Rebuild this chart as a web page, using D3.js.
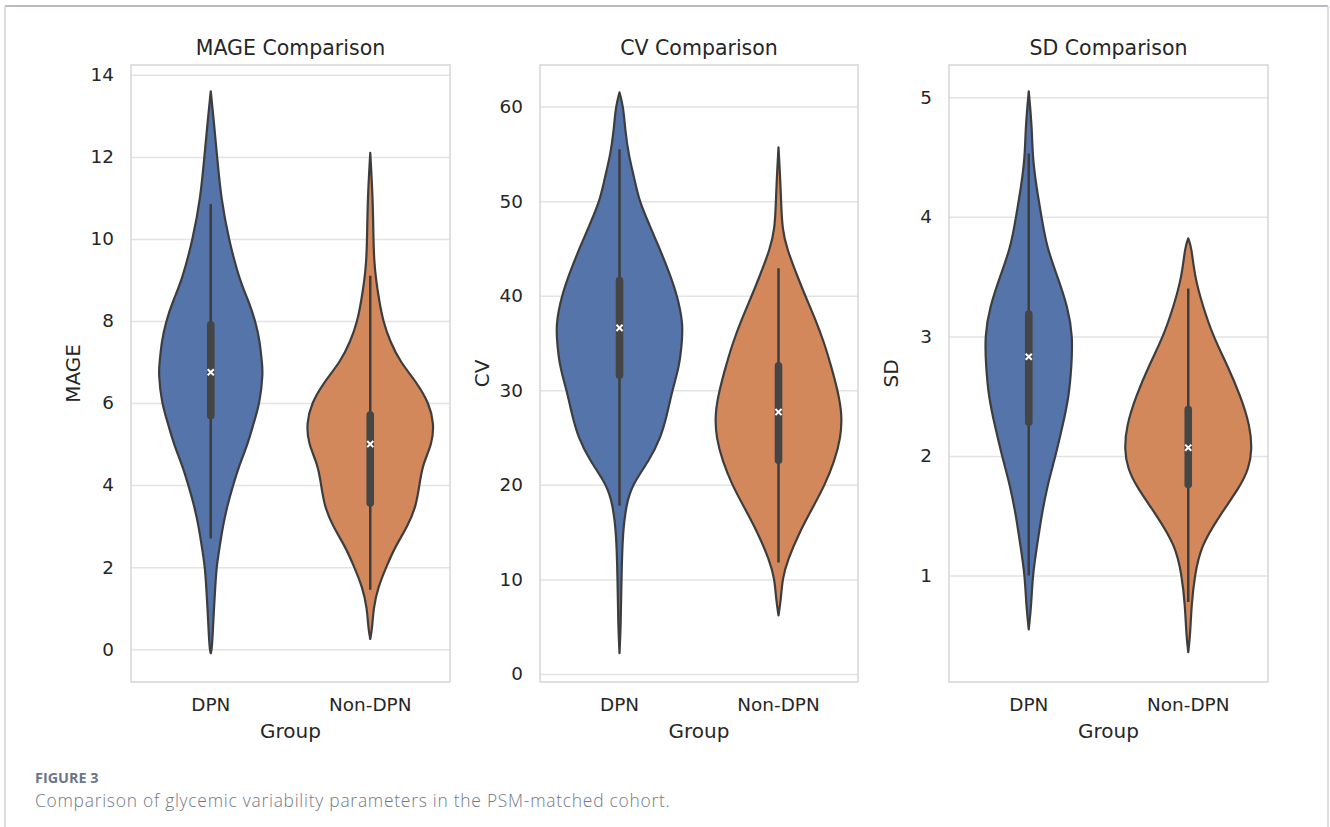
<!DOCTYPE html>
<html>
<head>
<meta charset="utf-8">
<script src="https://cdn.jsdelivr.net/npm/d3@7"></script>
<style>
  body { margin: 0; background: #fff; }
  svg { display: block; }
</style>
</head>
<body>
<div id="chart"></div>
<script>
// groups and metrics
const groups = ["DPN", "Non-DPN"];
const metrics = ["MAGE", "CV", "SD"];

// y ticks per panel
const mageTicks = [0, 2, 4, 6, 8, 10, 12, 14];
const cvTicks = [0, 10, 20, 30, 40, 50, 60];
const sdTicks = [1, 2, 3, 4, 5];

// axis ranges
const mageDomain = [-0.8, 14.24];
const cvDomain = [-0.85, 64.4];
const sdDomain = [0.11, 5.27];

// violin profiles: value along y, relative density (1 = widest violin)
const mageDpnV = [13.6,13,12,11,10,9,8.5,8,7.5,7,6.75,6,5.5,5,4.5,4,3.5,3,2.5,2,1.5,1,0,-0.1];
const mageDpnD = [0,.04,.10,.16,.28,.45,.59,.70,.77,.80,.82,.77,.67,.58,.45,.35,.26,.19,.14,.09,.07,.05,.02,0];
const mageNonV = [12.1,11,10,9.5,9,8.5,8,7.5,7,6.5,6,5.5,5,4.5,4,3.5,3,2.5,2,1.5,1,0.5,0.25];
const mageNonD = [0,.04,.05,.06,.09,.14,.20,.31,.47,.73,.92,1.0,.97,.82,.77,.72,.59,.39,.25,.12,.05,.03,0];

const cvDpnV = [61.5,60,57.5,55,52.5,50,47.5,45,42.5,40,37,35,32.5,30,27.5,25,22.5,20,18,15,10,5,2.2];
const cvDpnD = [0,.06,.09,.14,.23,.31,.47,.63,.78,.91,1.0,.98,.94,.83,.75,.65,.46,.20,.11,.05,.03,.02,0];
const cvNonV = [55.7,52,50,47,45,42,40,37.5,35,32.5,30,27.5,25,22.5,20,17.5,15,12,10,8,6.2];
const cvNonD = [0,.03,.04,.06,.13,.30,.42,.58,.72,.83,.93,1.0,.98,.88,.73,.53,.33,.14,.06,.04,0];

const sdDpnV = [5.05,4.75,4.5,4.25,4,3.75,3.5,3.25,3,2.75,2.5,2.25,2,1.75,1.5,1.25,1,0.75,0.55];
const sdDpnD = [0,.05,.06,.12,.20,.28,.45,.61,.69,.67,.63,.53,.42,.29,.20,.13,.06,.04,0];
const sdNonV = [3.82,3.75,3.5,3.25,3,2.75,2.5,2.25,2.05,1.9,1.75,1.5,1.25,1,0.75,0.5,0.36];
const sdNonD = [0,.05,.10,.23,.39,.62,.82,.97,1.0,.95,.82,.49,.20,.10,.05,.03,0];

// box stats: lower whisker, Q1, median, Q3, upper whisker
const mageBox = [[2.7, 5.6, 6.75, 8.0, 10.85], [1.45, 3.47, 5.0, 5.8, 9.1]];
const cvBox = [[17.8, 31.2, 36.6, 42.0, 55.5], [11.8, 22.2, 27.7, 33.0, 42.9]];
const sdBox = [[1.0, 2.25, 2.83, 3.22, 4.53], [0.78, 1.73, 2.07, 2.42, 3.4]];

const W = 1330, H = 827;
const colors = ["#5574a9", "#d3885c"];
const ink = "#3d3d3d";

const panels = [
  {name: "MAGE", ticks: mageTicks, domain: mageDomain, left: 131, right: 450,
   prof: [[mageDpnV, mageDpnD], [mageNonV, mageNonD]], box: mageBox},
  {name: "CV", ticks: cvTicks, domain: cvDomain, left: 540, right: 858,
   prof: [[cvDpnV, cvDpnD], [cvNonV, cvNonD]], box: cvBox},
  {name: "SD", ticks: sdTicks, domain: sdDomain, left: 949, right: 1268,
   prof: [[sdDpnV, sdDpnD], [sdNonV, sdNonD]], box: sdBox}
];
const plotTop = 65, plotBottom = 682;

const svg = d3.select("#chart").append("svg").attr("width", W).attr("height", H)
  .style("font-family", "'DejaVu Sans', sans-serif");

// card border
svg.append("line").attr("x1", 5).attr("x2", 1328).attr("y1", 6).attr("y2", 6)
  .attr("stroke", "#a3a3b3").attr("stroke-width", 1.5);
svg.append("line").attr("x1", 5).attr("x2", 5).attr("y1", 6).attr("y2", H)
  .attr("stroke", "#d2d2d2").attr("stroke-width", 1.5);
svg.append("line").attr("x1", 1328).attr("x2", 1328).attr("y1", 6).attr("y2", H)
  .attr("stroke", "#d2d2d2").attr("stroke-width", 1.5);

panels.forEach(p => {
  let g = svg.append("g");
  let x = d3.scaleBand().domain(groups).range([p.left, p.right]);
  let y = d3.scaleLinear().domain(p.domain).range([plotBottom, plotTop]);
  let w = d3.scaleLinear().domain([0, 1]).range([0, x.bandwidth() * 0.4]);

  /*grid*/
  let yAxis = d3.axisLeft(y).tickValues(p.ticks).tickFormat(d3.format("d"))
    .tickSize(-(p.right - p.left)).tickPadding(17);
  let ga = g.append("g").attr("transform", "translate(" + p.left + ",0)").call(yAxis);
  ga.select(".domain").remove();
  ga.selectAll(".tick line").attr("stroke", "#e3e3e3").attr("stroke-width", 1.5);
  ga.selectAll(".tick text").attr("fill", "#262626").style("font-size", "18.4px")
    .style("font-family", "'DejaVu Sans', sans-serif");

  let xAxis = d3.axisBottom(x).tickSize(0).tickPadding(16);
  let gx = g.append("g").attr("transform", "translate(0," + plotBottom + ")").call(xAxis);
  gx.select(".domain").remove();
  gx.selectAll(".tick text").attr("fill", "#262626").style("font-size", "18.4px")
    .style("font-family", "'DejaVu Sans', sans-serif");

  // violins
  groups.forEach((grp, i) => {
    let cx = x(grp) + x.bandwidth() / 2;
    let pts = p.prof[i][0].map((v, k) => ({v: v, d: p.prof[i][1][k]}));
    let area = d3.area()
      .y(d => y(d.v))
      .x0(d => cx - w(d.d))
      .x1(d => cx + w(d.d))
      .curve(d3.curveBasis);
    g.append("path").attr("d", area(pts))
      .attr("fill", colors[i]).attr("stroke", ink).attr("stroke-width", 2.2)
      .attr("stroke-linejoin", "round");

    let b = p.box[i];
    g.append("line").attr("x1", cx).attr("x2", cx)
      .attr("y1", y(b[0])).attr("y2", y(b[4]))
      .attr("stroke", ink).attr("stroke-width", 2.5);
    g.append("line").attr("x1", cx).attr("x2", cx)
      .attr("y1", y(b[1]) - 3.8).attr("y2", y(b[3]) + 3.8)
      .attr("stroke", "#454545").attr("stroke-width", 7.6).attr("stroke-linecap", "round");
    g.append("path").attr("d", d3.symbol(d3.symbolTimes, 26)())
      .attr("transform", "translate(" + cx + "," + y(b[2]) + ")")
      .attr("fill", "none").attr("stroke", "#fff").attr("stroke-width", 2);
  });

  // frame
  g.append("rect").attr("x", p.left).attr("y", plotTop)
    .attr("width", p.right - p.left).attr("height", plotBottom - plotTop)
    .attr("fill", "none").attr("stroke", "#d6d6d6").attr("stroke-width", 1.5);

  let cx = (p.left + p.right) / 2;
  g.append("text").attr("x", cx).attr("y", 54.5).attr("text-anchor", "middle")
    .attr("fill", "#262626").style("font-size", "20.5px").text(p.name + " Comparison");
  g.append("text").attr("x", cx).attr("y", 738).attr("text-anchor", "middle")
    .attr("fill", "#262626").style("font-size", "20px").text("Group");
  let lx = p.left - 58;
  g.append("text").attr("transform", "translate(" + lx + "," + ((plotTop + plotBottom) / 2) + ") rotate(-90)")
    .attr("text-anchor", "middle").attr("dy", "0.35em")
    .attr("fill", "#262626").style("font-size", "20px").text(p.name);
});

// caption
svg.append("text").attr("x", 35).attr("y", 783)
  .style("font-family", "'Open Sans', Lato, sans-serif").style("font-size", "14.4px")
  .style("font-weight", "bold").attr("fill", "#6b768b").text("FIGURE 3");
svg.append("text").attr("x", 35).attr("y", 807)
  .style("font-family", "'Open Sans', Lato, sans-serif").style("font-size", "17.4px")
  .style("font-weight", "300").style("letter-spacing", "0.75px")
  .attr("fill", "#717887").text("Comparison of glycemic variability parameters in the PSM-matched cohort.");
</script>
</body>
</html>
